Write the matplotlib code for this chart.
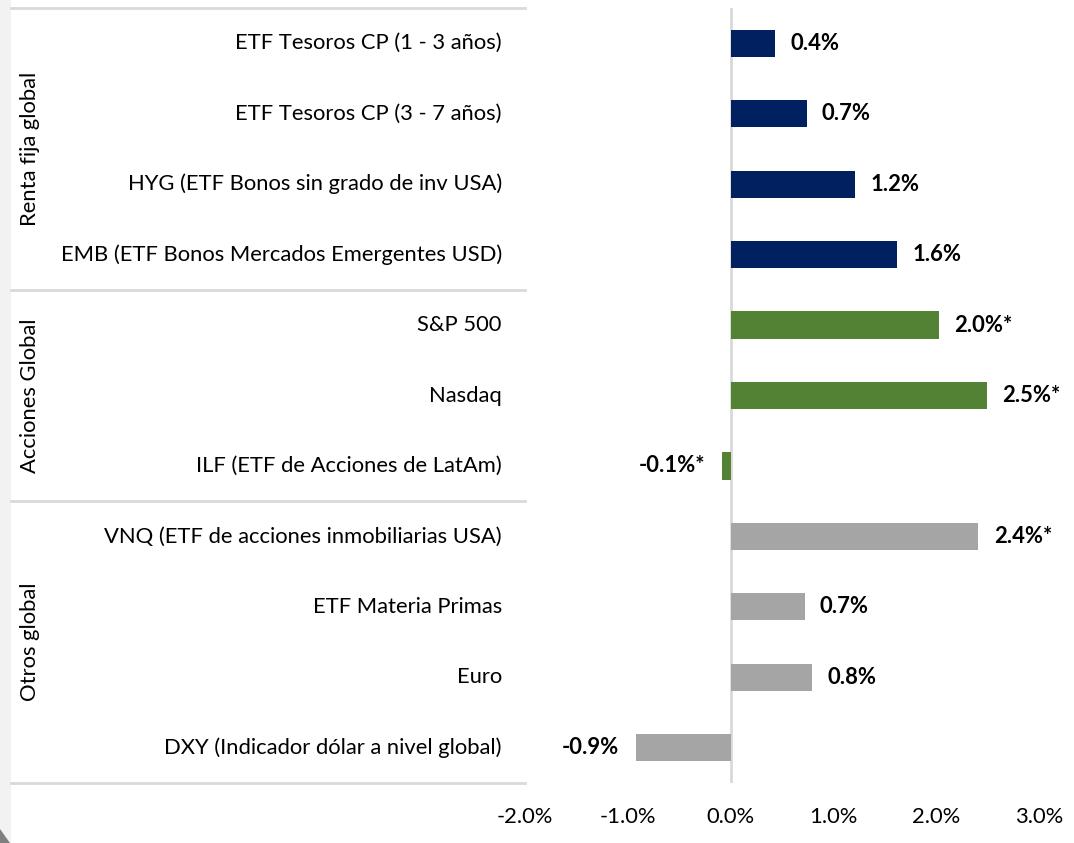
import matplotlib
matplotlib.use("Agg")
import matplotlib.pyplot as plt
from matplotlib.patches import Rectangle, Polygon

categories = [
    "ETF Tesoros CP (1 - 3 años)",
    "ETF Tesoros CP (3 - 7 años)",
    "HYG (ETF Bonos sin grado de inv USA)",
    "EMB (ETF Bonos Mercados Emergentes USD)",
    "S&P 500",
    "Nasdaq",
    "ILF (ETF de Acciones de LatAm)",
    "VNQ (ETF de acciones inmobiliarias USA)",
    "ETF Materia Primas",
    "Euro",
    "DXY (Indicador dólar a nivel global)",
]
values = [0.43, 0.74, 1.21, 1.62, 2.03, 2.49, -0.08, 2.41, 0.72, 0.79, -0.92]
value_labels = ["0.4%", "0.7%", "1.2%", "1.6%", "2.0%*", "2.5%*", "-0.1%*",
                "2.4%*", "0.7%", "0.8%", "-0.9%"]
groups = ["Renta fija global", "Acciones Global", "Otros global"]
group_sizes = [4, 3, 4]
group_colors = ["#002060", "#548235", "#A5A5A5"]
x_ticks = [-2, -1, 0, 1, 2, 3]
x_tick_labels = ["-2.0%", "-1.0%", "0.0%", "1.0%", "2.0%", "3.0%"]

FONT = ["Lato", "DejaVu Sans"]
plt.rcParams["font.family"] = FONT
FS = 15.8

W, H = 1074, 843
fig = plt.figure(figsize=(W / 100, H / 100), dpi=100)

# left light strip and tiny corner mark
fig.patches.append(Rectangle((0, 0), 11 / W, 1, transform=fig.transFigure,
                             facecolor="#F2F2F2", edgecolor="none", zorder=0))
fig.patches.append(Polygon([(0, 0), (0, 14 / H), (10 / W, 0)], closed=True,
                           transform=fig.transFigure, facecolor="#7F7F7F",
                           edgecolor="none", zorder=1))

ax_l, ax_r = 525 / W, 1039 / W
ax_b, ax_t = 1 - 783 / H, 1 - 8 / H
ax = fig.add_axes([ax_l, ax_b, ax_r - ax_l, ax_t - ax_b])

n = len(categories)
colors = []
for g, s in enumerate(group_sizes):
    colors += [group_colors[g]] * s
ypos = list(range(n))
ax.barh(ypos, values, height=0.385, color=colors, zorder=2)
ax.set_ylim(n - 0.5, -0.5)
ax.set_xlim(-2, 3)

for y, v, lab in zip(ypos, values, value_labels):
    if v >= 0:
        ax.annotate(lab, (v, y), xytext=(11, 0), textcoords="offset points",
                    ha="left", va="center", fontsize=FS, fontweight="bold",
                    color="black")
    else:
        ax.annotate(lab, (v, y), xytext=(-12, 0), textcoords="offset points",
                    ha="right", va="center", fontsize=FS, fontweight="bold",
                    color="black")

ax.axvline(0, color="#D9D9D9", lw=2, zorder=1)

for s in ax.spines.values():
    s.set_visible(False)
ax.set_yticks([])
ax.set_xticks(x_ticks)
ax.set_xticklabels(x_tick_labels, fontsize=FS)
ax.tick_params(axis="x", length=0, pad=17)

# category labels
for y, c in zip(ypos, categories):
    ax.text(-2 - 0.225, y, c, ha="right", va="center", fontsize=FS,
            color="black")

# group separators and labels
trans = matplotlib.transforms.blended_transform_factory(fig.transFigure, ax.transData)
bounds = [-0.5]
acc = -0.5
for s in group_sizes:
    acc += s
    bounds.append(acc)
for b in bounds:
    fig.add_artist(matplotlib.lines.Line2D([11 / W, ax_l], [b, b], transform=trans,
                                           color="#D9D9D9", lw=2))
for g, name in enumerate(groups):
    mid = (bounds[g] + bounds[g + 1]) / 2
    fig.text(30 / W, mid, name, transform=trans, rotation=90, ha="center",
             va="center", fontsize=FS, color="black")

fig.savefig("out.png", dpi=100)
